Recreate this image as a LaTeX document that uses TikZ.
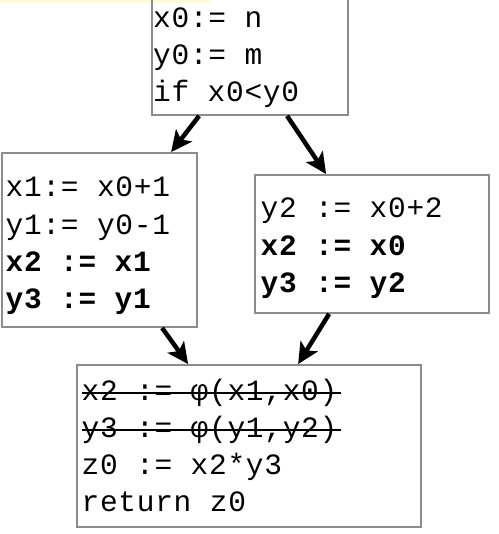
\documentclass[tikz,border=0pt]{standalone}
\usepackage{fontspec}
\newfontfamily\codefam[LetterSpace=2.4]{Liberation Mono}
\usetikzlibrary{arrows.meta,calc}
\definecolor{boxgray}{HTML}{8C8C8C}
\definecolor{paleyellow}{HTML}{FFFBD2}
\newcommand{\codefont}{\codefam\fontsize{29.5}{37}\selectfont}
\tikzset{
  box/.style={draw=boxgray, line width=1.8pt, rectangle, inner sep=0pt},
  code/.style={anchor=base west, inner sep=0pt, font=\codefont},
  bcode/.style={code, font=\codefont\bfseries},
  arr/.style={line width=4.5pt, -{Stealth[length=21pt,width=20pt,inset=5pt]}},
  strike/.style={line width=1.3pt, black}
}
\begin{document}
\begin{tikzpicture}[x=1pt,y=-1pt]
\useasboundingbox (0,0) rectangle (498,534);
\fill[paleyellow] (0,0) rectangle (210,3);
% boxes
\node[box, minimum width=196pt, minimum height=125pt] (b0) at (250,52.5) {};
\node[box, minimum width=195pt, minimum height=174pt] (b1) at (99.5,240) {};
\node[box, minimum width=234pt, minimum height=138pt] (b2) at (372,244) {};
\node[box, minimum width=344pt, minimum height=162pt] (b3) at (249,446) {};
% top box text
\node[code] (t01) at (153,28) {x0:= n};
\node[code] (t02) at (153,65) {y0:= m};
\node[code] (t03) at (153,102) {if x0<y0};
% left box text
\node[code] (t11) at (5.5,197) {x1:= x0+1};
\node[code] (t12) at (5.5,234) {y1:= y0-1};
\node[bcode] (t13) at (5.5,271) {x2 := x1};
\node[bcode] (t14) at (5.5,308) {y3 := y1};
% right box text
\node[code] (t21) at (260.5,218) {y2 := x0+2};
\node[bcode] (t22) at (260.5,255) {x2 := x0};
\node[bcode] (t23) at (260.5,292) {y3 := y2};
% bottom box text
\node[code] (t31) at (81.5,400) {x2 := φ(x1,x0)};
\node[code] (t32) at (81.5,437) {y3 := φ(y1,y2)};
\node[code] (t33) at (81.5,474) {z0 := x2*y3};
\node[code] (t34) at (81.5,511) {return z0};
\draw[strike] ($(t31.base west)+(0,-7)$) -- ($(t31.base east)+(3,-7)$);
\draw[strike] ($(t32.base west)+(0,-7)$) -- ($(t32.base east)+(3,-7)$);
% arrows
\draw[arr] ($(b0.south west)+(48,0)$) -- ($(b1.north west)+(170,0)$);
\draw[arr] ($(b0.south west)+(136,0)$) -- ($(b2.north west)+(72,0)$);
\draw[arr] ($(b1.south west)+(161,0)$) -- ($(b3.north west)+(112,0)$);
\draw[arr] ($(b2.south west)+(75,0)$) -- ($(b3.north west)+(222,0)$);
\end{tikzpicture}
\end{document}
